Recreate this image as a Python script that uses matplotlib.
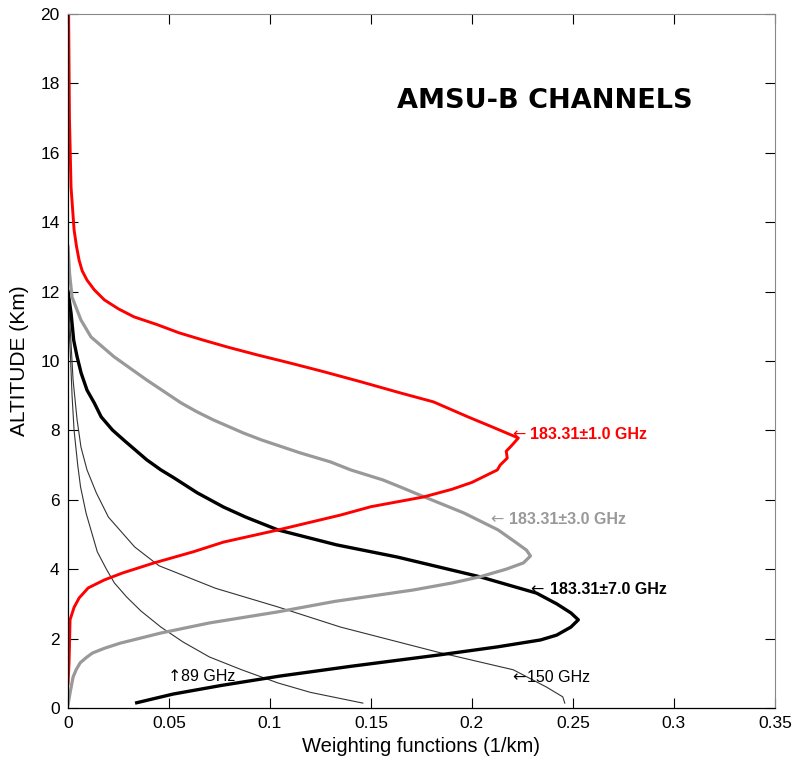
import matplotlib
matplotlib.use("Agg")
import matplotlib.pyplot as plt

# weighting functions, altitude in km vs weight in 1/km
ch1_alt = [0.7, 1.3, 2.0, 2.54, 2.9, 3.17, 3.46, 3.69, 3.89, 4.18, 4.5, 4.78, 5.13, 5.56, 5.8,
           6.08, 6.3, 6.5, 6.7, 6.86, 7.0, 7.2, 7.4, 7.55, 7.78, 8.1, 8.39, 8.82, 9.08, 9.4,
           9.7, 9.94, 10.17, 10.4, 10.6, 10.81, 11.05, 11.27, 11.5, 11.76, 12.05, 12.33, 12.6,
           12.9, 13.3, 13.78, 15.0, 17.0, 20.0]
ch1_w = [0.0, 0.0005, 0.0008, 0.001, 0.003, 0.0055, 0.010, 0.018, 0.027, 0.0426, 0.062, 0.077,
         0.104, 0.135, 0.150, 0.176, 0.190, 0.200, 0.207, 0.2126, 0.214, 0.2175, 0.217, 0.2195,
         0.223, 0.210, 0.198, 0.181, 0.1645, 0.145, 0.126, 0.110, 0.094, 0.079, 0.067, 0.055,
         0.044, 0.0327, 0.025, 0.018, 0.013, 0.0094, 0.007, 0.0055, 0.0042, 0.003, 0.0015,
         0.0007, 0.0003]

ch3_alt = [0.1, 0.43, 0.89, 1.1, 1.3, 1.45, 1.58, 1.72, 1.87, 2.0, 2.16, 2.45, 2.77, 3.07, 3.4,
           3.6, 3.78, 4.0, 4.18, 4.38, 4.55, 4.76, 5.13, 5.62, 6.14, 6.37, 6.57, 6.86, 7.09,
           7.35, 7.72, 7.92, 8.3, 8.53, 8.79, 9.45, 10.12, 10.69, 11.18, 11.84, 12.5, 13.3]
ch3_w = [0.0, 0.001, 0.0025, 0.004, 0.006, 0.009, 0.012, 0.018, 0.026, 0.035, 0.046, 0.070,
         0.104, 0.132, 0.171, 0.190, 0.204, 0.217, 0.2255, 0.229, 0.227, 0.222, 0.213, 0.196,
         0.174, 0.1645, 0.156, 0.140, 0.130, 0.115, 0.096, 0.087, 0.072, 0.064, 0.056, 0.039,
         0.0228, 0.0114, 0.0064, 0.002, 0.0008, 0.0]

ch7_alt = [0.15, 0.4, 0.65, 0.92, 1.2, 1.53, 1.76, 1.96, 2.1, 2.33, 2.54, 2.74, 3.0, 3.31, 3.78,
           4.35, 4.7, 5.13, 5.5, 5.79, 6.2, 6.63, 6.86, 7.15, 7.7, 8.01, 8.39, 8.79, 9.16, 9.65,
           10.12, 10.6, 11.38, 12.0]
ch7_w = [0.034, 0.052, 0.076, 0.105, 0.140, 0.184, 0.2126, 0.234, 0.242, 0.249, 0.2527, 0.249,
         0.242, 0.232, 0.204, 0.163, 0.133, 0.104, 0.088, 0.077, 0.064, 0.0525, 0.046, 0.039,
         0.028, 0.022, 0.0164, 0.013, 0.0094, 0.0065, 0.0045, 0.0028, 0.0015, 0.0]

ch89_alt = [0.14, 0.45, 0.72, 1.1, 1.47, 1.9, 2.33, 2.8, 3.2, 3.6, 4.0, 4.5, 5.0, 5.6, 6.37,
            7.0, 8.0, 9.0, 10.0, 11.0, 12.0]
ch89_w = [0.146, 0.120, 0.104, 0.086, 0.070, 0.057, 0.046, 0.036, 0.029, 0.023, 0.019, 0.0145,
          0.012, 0.009, 0.0062, 0.0048, 0.003, 0.002, 0.0013, 0.0005, 0.0]

ch150_alt = [0.14, 0.32, 0.6, 1.1, 1.61, 2.0, 2.33, 2.91, 3.45, 4.1, 4.64, 5.5, 6.2, 6.86, 7.52,
             8.3, 9.45, 10.5, 11.5, 12.5]
ch150_w = [0.246, 0.245, 0.237, 0.2205, 0.183, 0.157, 0.135, 0.104, 0.073, 0.045, 0.033, 0.020,
           0.014, 0.0094, 0.0064, 0.0045, 0.0025, 0.0015, 0.0005, 0.0]

x_ticks = [0, 0.05, 0.1, 0.15, 0.2, 0.25, 0.3, 0.35]
x_tick_labels = ['0', '0.05', '0.1', '0.15', '0.2', '0.25', '0.3', '0.35']
y_ticks = list(range(0, 21, 2))

FONT = ['Liberation Sans', 'DejaVu Sans']

fig = plt.figure(figsize=(8.05, 7.75), dpi=100)
ax = fig.add_axes([0.0845, 0.0865, 0.878, 0.8955])

ax.plot(ch89_w, ch89_alt, color='#333333', lw=0.8)
ax.plot(ch150_w, ch150_alt, color='#333333', lw=0.8)
ax.plot(ch7_w, ch7_alt, color='black', lw=2.4)
ax.plot(ch3_w, ch3_alt, color='#999999', lw=2.3)
ax.plot(ch1_w, ch1_alt, color='#ff0000', lw=2.1)

ax.set_xlim(0, 0.35)
ax.set_ylim(0, 20)
ax.set_xticks(x_ticks)
ax.set_xticklabels(x_tick_labels)
ax.set_yticks(y_ticks)
ax.tick_params(direction='in', length=7, width=0.8, top=True, right=True,
               labelsize=12.5, pad=6)
for lab in ax.get_xticklabels() + ax.get_yticklabels():
    lab.set_family(FONT)
for side in ['top', 'right']:
    ax.spines[side].set_color('#888888')
for side in ['left', 'bottom']:
    ax.spines[side].set_linewidth(0.9)

ax.set_xlabel('Weighting functions (1/km)', fontsize=14.5, family=FONT, labelpad=4)
ax.set_ylabel('ALTITUDE (Km)', fontsize=15, family=FONT, labelpad=8)

ax.text(0.236, 17.5, 'AMSU-B CHANNELS', fontsize=19.5, fontweight='bold',
        family='DejaVu Sans', ha='center', va='center')

# channel labels: arrow glyph and text drawn separately
labels = [
    (0.220, 0.2289, 7.87, '\u2190', '183.31\u00b11.0 GHz', '#ff0000', 'bold'),
    (0.209, 0.2185, 5.42, '\u2190', '183.31\u00b13.0 GHz', '#999999', 'bold'),
    (0.229, 0.2389, 3.40, '\u2190', '183.31\u00b17.0 GHz', 'black', 'bold'),
    (0.0496, 0.056, 0.92, '\u2191', '89 GHz', 'black', 'normal'),
    (0.220, 0.2274, 0.89, '\u2190', '150 GHz', 'black', 'normal'),
]
for xa, xt, y, arrow, txt, col, wt in labels:
    ax.text(xa, y, arrow, color=col, fontsize=11.5, family='DejaVu Sans',
            ha='left', va='center')
    ax.text(xt, y, txt, color=col, fontsize=11.5, fontweight=wt, family=FONT,
            ha='left', va='center')

fig.savefig('out.png', dpi=100)
